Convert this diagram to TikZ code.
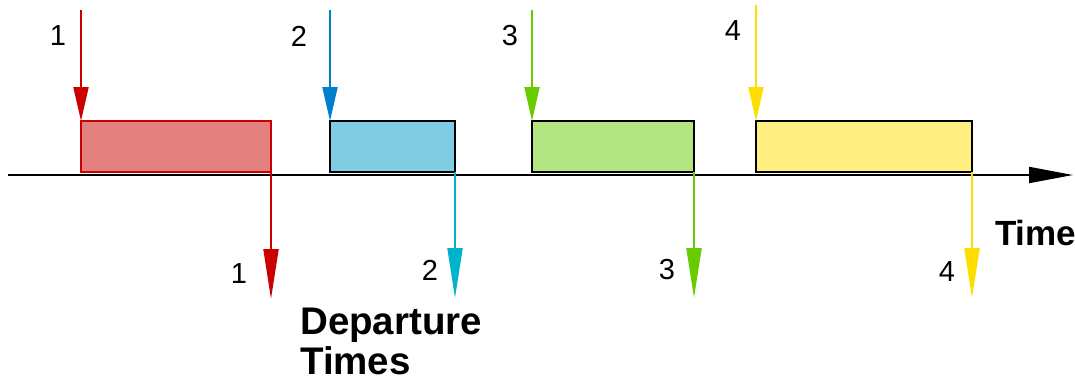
\documentclass[tikz,border=0pt]{standalone}
\usepackage{fontspec}
\setmainfont{Liberation Sans}
\usetikzlibrary{arrows.meta}
\definecolor{cRed}{HTML}{CC0000}
\definecolor{fRed}{HTML}{E38080}
\definecolor{cBlue}{HTML}{0080CC}
\definecolor{cCyan}{HTML}{00B3CC}
\definecolor{fBlue}{HTML}{80CCE3}
\definecolor{cGreen}{HTML}{66CC00}
\definecolor{fGreen}{HTML}{B3E680}
\definecolor{cYellow}{HTML}{FFDD00}
\definecolor{fYellow}{HTML}{FFEE80}
\begin{document}
\begin{tikzpicture}[x=1pt,y=-1pt,
  job/.style={draw=black,line width=2.5pt,outer sep=0pt,inner sep=0pt,minimum height=51pt},
  arr/.style={line width=2pt,-{Triangle[length=34pt,width=15pt]}},
  dep/.style={line width=2pt,-{Triangle[length=50pt,width=15pt]}},
  num/.style={font=\fontsize{29}{29}\selectfont,inner sep=0pt},
  big/.style={font=\fontsize{35}{36}\selectfont\bfseries,inner sep=0pt,align=left}]
\useasboundingbox (0,0) rectangle (1075,381);
% axis
\coordinate (a0) at (8,175);
\coordinate (a1) at (1073,175);
\draw[line width=2pt,-{Triangle[length=44pt,width=16pt]}] (a0) -- (a1);
% boxes
\node[job,draw=cRed,fill=fRed,minimum width=190pt] (b1) at (176,146.5) {};
\node[job,fill=fBlue,minimum width=125pt] (b2) at (392.5,146.5) {};
\node[job,fill=fGreen,minimum width=162pt] (b3) at (613,146.5) {};
\node[job,fill=fYellow,minimum width=216pt] (b4) at (864,146.5) {};
% arrival start points
\coordinate (s1) at (81,10);
\coordinate (s2) at (330,10);
\coordinate (s3) at (532,10);
\coordinate (s4) at (756,5);
\draw[arr,cRed] (s1) -- (s1 |- b1.north);
\draw[arr,cBlue] (s2) -- (s2 |- b2.north);
\draw[arr,cGreen] (s3) -- (s3 |- b3.north);
\draw[arr,cYellow] (s4) -- (s4 |- b4.north);
% departure end points
\coordinate (e1) at (271,299);
\coordinate (e2) at (455,298);
\coordinate (e3) at (694,298);
\coordinate (e4) at (972,298);
\draw[dep,cRed] (e1 |- b1.south) -- (e1);
\draw[dep,cCyan] (e2 |- b2.south) -- (e2);
\draw[dep,cGreen] (e3 |- b3.south) -- (e3);
\draw[dep,cYellow] (e4 |- b4.south) -- (e4);
% labels
\node[num] (l1) at (58,36) {1};
\node[num] (l2) at (299,36) {2};
\node[num] (l3) at (510,36) {3};
\node[num] (l4) at (733,31) {4};
\node[num] (d1) at (239,274) {1};
\node[num] (d2) at (430,270) {2};
\node[num] (d3) at (667,270) {3};
\node[num] (d4) at (947,272) {4};
\node[big,anchor=west] (time) at (995,233) {Time};
\node[big,font=\fontsize{38.5}{40}\selectfont\bfseries,anchor=north west] (dep) at (300,308) {Departure\\Times};
\end{tikzpicture}
\end{document}
